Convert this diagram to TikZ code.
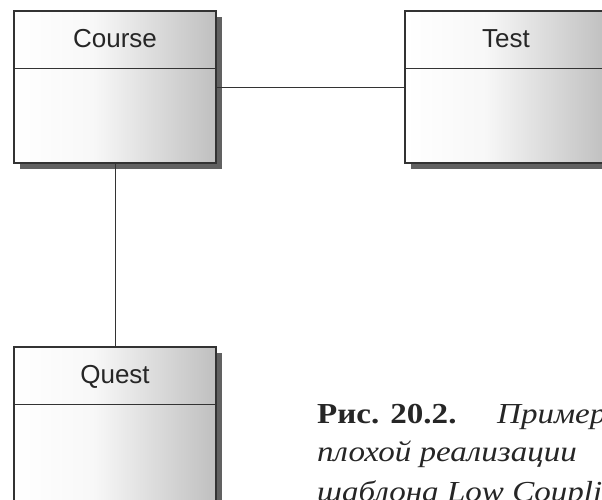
\documentclass[tikz,border=0pt]{standalone}
\usepackage{fontspec}
\setmainfont{Liberation Serif}
\newfontfamily\capfont[FakeStretch=1.14]{Liberation Serif}
\newfontfamily\labelfont{Liberation Sans}
\usetikzlibrary{shadows}
\pgfdeclarehorizontalshading{classshade}{100bp}{color(0bp)=(white); color(25bp)=(white); color(45bp)=(white!97!black); color(75bp)=(black!25); color(100bp)=(black!25)}
\tikzset{
  classbox/.style={draw=black!80, line width=1.3pt, minimum width=202pt, minimum height=152pt,
    inner sep=0pt, shade, shading=classshade,
    drop shadow={shadow xshift=6pt, shadow yshift=-6pt, fill=black!62, opacity=1}},
  classlabel/.style={font=\labelfont\fontsize{26}{30}\selectfont, text=black!85, inner sep=0pt, anchor=base},
  divider/.style={draw=black!80, line width=1.3pt},
  assoc/.style={draw=black!80, line width=1pt},
  captext/.style={font=\capfont\fontsize{29}{38}\selectfont, text=black!85, inner sep=0pt, anchor=base west}
}
\begin{document}
\begin{tikzpicture}[x=1pt,y=1pt]
\useasboundingbox (0,0) rectangle (602,-499);
\clip (0,0) rectangle (602,-499);
\fill[white] (0,0) rectangle (602,-499);
% classes
\node[classbox] (course) at (115,-87) {};
\node[classbox] (test) at (506,-87) {};
\node[classbox, minimum height=160pt] (quest) at (115,-427) {};
\draw[divider] ([yshift=-58pt]course.north west) -- ([yshift=-58pt]course.north east);
\draw[divider] ([yshift=-58pt]test.north west) -- ([yshift=-58pt]test.north east);
\draw[divider] ([yshift=-58pt]quest.north west) -- ([yshift=-58pt]quest.north east);
\node[classlabel] (coursename) at ([yshift=-37pt]course.north) {Course};
\node[classlabel] (testname) at ([yshift=-37pt]test.north) {Test};
\node[classlabel] (questname) at ([yshift=-37pt]quest.north) {Quest};
% associations
\draw[assoc] (course.east) -- (test.west);
\draw[assoc] (course.south) -- (quest.north);
% caption
\node[captext] (cap1) at (317,-423) {\bfseries Рис. 20.2.};
\node[captext] (cap1b) at (497,-423) {\itshape Пример};
\node[captext] (cap2) at (317,-461) {\itshape плохой реализации};
\node[captext] (cap3) at (317,-501) {\itshape шаблона Low Coupling};
\end{tikzpicture}
\end{document}
